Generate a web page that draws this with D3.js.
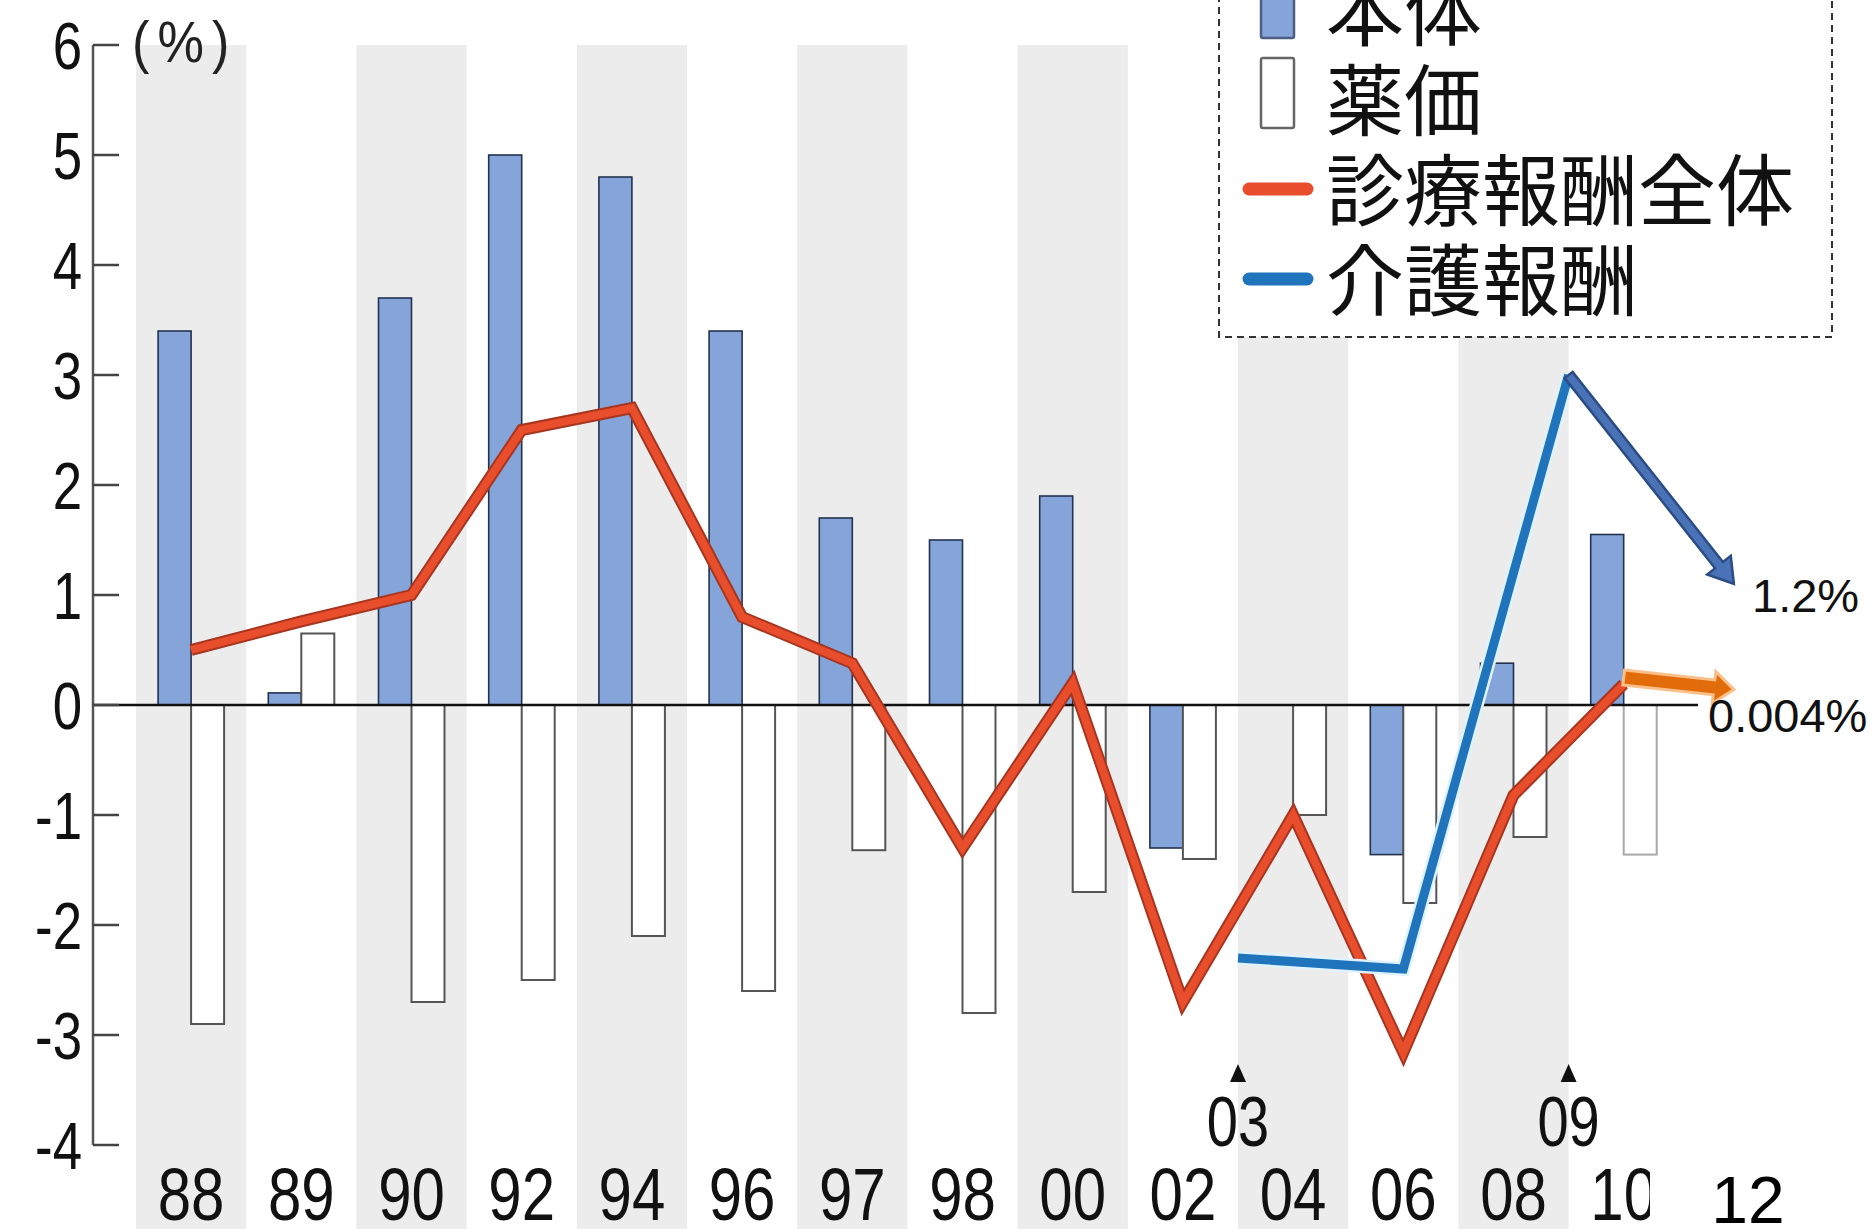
<!DOCTYPE html>
<html>
<head>
<meta charset="utf-8">
<script src="https://cdn.jsdelivr.net/npm/d3@7"></script>
<style>
html, body { margin: 0; padding: 0; background: #fff; }
svg { display: block; }
</style>
</head>
<body>
<div id="chart"></div>
<script>

// categories (revision years) and values, %
var yearLabels = ["88", "89", "90", "92", "94", "96", "97", "98", "00", "02", "04", "06", "08", "10", "12"];
var years = [1988, 1989, 1990, 1992, 1994, 1996, 1997, 1998, 2000, 2002, 2004, 2006, 2008, 2010, 2012];
var honTai = [3.4, 0.11, 3.7, 5.0, 4.8, 3.4, 1.7, 1.5, 1.9, -1.3, 0, -1.36, 0.38, 1.55];          // 本体
var yakka = [-2.9, 0.65, -2.7, -2.5, -2.1, -2.6, -1.32, -2.8, -1.7, -1.4, -1.0, -1.8, -1.2, -1.36]; // 薬価
var zentai = [0.5, 0.76, 1.0, 2.5, 2.7, 0.8, 0.38, -1.3, 0.2, -2.7, -1.0, -3.16, -0.82, 0.19];      // 診療報酬全体
var kaigoYears = [2003, 2006, 2009];
var kaigo = [-2.3, -2.4, 3.0];                                                                       // 介護報酬
var yTicks = [6, 5, 4, 3, 2, 1, 0, -1, -2, -3, -4];
var markYears = [2003, 2009];
var markLabels = ["03", "09"];
var legendLabels = ["本体", "薬価", "診療報酬全体", "介護報酬"];

// 2012 additions drawn on top of the old chart
var kaigoArrow = [{ year: 2009, v: 3.0 }, { year: 2012, v: 1.1 }];
var zentaiArrow = [{ year: 2010, v: 0.25 }, { year: 2012, v: 0.14 }];
var noteLabels = ["1.2%", "0.004%"];

var W = 1876, H = 1229;
var svg = d3.select("#chart").append("svg").attr("width", W).attr("height", H);

var xBand = d3.scaleBand().domain(yearLabels).range([136, 136 + 15 * 110.2]).padding(0);
var bw = xBand.bandwidth();
var xYear = d3.scaleLinear().domain(years)
    .range(yearLabels.map(function (l) { return xBand(l) + bw / 2; }));
var y = d3.scaleLinear().domain([-4, 6]).range([1145, 45]);

var barW = 33;
var numFont = "'Liberation Sans', Arial, sans-serif";
var jpFont = "'Noto Sans CJK JP', sans-serif";

svg.append("defs").append("clipPath").attr("id", "oldchart")
    .append("rect").attr("x", 0).attr("y", 0).attr("width", 1650).attr("height", H);

// shaded bands, every other year
svg.append("g").selectAll("rect").data(yearLabels.slice(0, 14)).enter().append("rect")
    .attr("x", function (d) { return xBand(d); })
    .attr("y", y(6))
    .attr("width", bw)
    .attr("height", H - y(6))
    .attr("fill", function (d, i) { return i % 2 == 0 ? "#ececec" : "none"; });

// bars
var bars = svg.append("g");
bars.selectAll("rect.hon").data(honTai).enter().append("rect").attr("class", "hon")
    .attr("x", function (d, i) { return xBand(yearLabels[i]) + bw / 2 - barW; })
    .attr("y", function (d) { return y(Math.max(0, d)); })
    .attr("width", barW)
    .attr("height", function (d) { return Math.abs(y(d) - y(0)); })
    .attr("fill", "#85a4d9").attr("stroke", "#22324f").attr("stroke-width", 1.6);

bars.selectAll("rect.yak").data(yakka).enter().append("rect").attr("class", "yak")
    .attr("x", function (d, i) { return xBand(yearLabels[i]) + bw / 2; })
    .attr("y", function (d) { return y(Math.max(0, d)); })
    .attr("width", barW)
    .attr("height", function (d) { return Math.abs(y(d) - y(0)); })
    .attr("fill", "#fff")
    .attr("stroke", function (d, i) { return i == 13 ? "#a8a8a8" : "#555"; })
    .attr("stroke-width", 2);

// zero line
svg.append("line").attr("x1", 93).attr("x2", 1698).attr("y1", y(0)).attr("y2", y(0))
    .attr("stroke", "#111").attr("stroke-width", 2.5);

// y axis
var yAxis = svg.append("g");
yAxis.append("line").attr("x1", 93).attr("x2", 93).attr("y1", y(6)).attr("y2", y(-4))
    .attr("stroke", "#555").attr("stroke-width", 2.5);
yAxis.selectAll("line.tick").data(yTicks).enter().append("line").attr("class", "tick")
    .attr("x1", 93).attr("x2", 119)
    .attr("y1", function (d) { return y(d); }).attr("y2", function (d) { return y(d); })
    .attr("stroke", "#444").attr("stroke-width", 2.5);
yAxis.selectAll("g.lbl").data(yTicks).enter().append("g").attr("class", "lbl")
    .attr("transform", function (d) { return "translate(82," + y(d) + ")"; })
    .append("text").text(function (d) { return d < 0 ? "-" + Math.abs(d) : d; })
    .attr("transform", "scale(0.8,1)")
    .attr("text-anchor", "end").attr("dy", "0.36em")
    .style("font-family", numFont).style("font-size", "66px").style("fill", "#111");
svg.append("g").attr("transform", "translate(132,62)")
    .append("text").text("(%)").attr("transform", "scale(0.9,1)")
    .style("font-family", numFont).style("font-size", "58px").style("letter-spacing", "9px")
    .style("fill", "#222");

// x labels (old chart is cut at the right)
var xl = svg.append("g").attr("clip-path", "url(#oldchart)");
xl.selectAll("g").data(yearLabels.slice(0, 14)).enter().append("g")
    .attr("transform", function (d) { return "translate(" + (xBand(d) + bw / 2) + ",1220)"; })
    .append("text").text(function (d) { return d; })
    .attr("transform", "scale(0.8,1)").attr("text-anchor", "middle")
    .style("font-family", numFont).style("font-size", "75px").style("fill", "#111");

// ▲03 ▲09 marks for care revisions
var marks = svg.append("g").selectAll("g").data(markYears).enter().append("g")
    .attr("transform", function (d) { return "translate(" + xYear(d) + ",0)"; });
marks.append("path").attr("d", "M0,1064 L-8,1082 L8,1082 Z").attr("fill", "#111");
marks.append("text").text(function (d, i) { return markLabels[i]; })
    .attr("transform", "translate(0,1146) scale(0.8,1)").attr("text-anchor", "middle")
    .style("font-family", numFont).style("font-size", "70px").style("fill", "#111");

// lines
var line = d3.line().x(function (d) { return xYear(d.year); }).y(function (d) { return y(d.v); });
var zentaiPts = zentai.map(function (v, i) { return { year: years[i], v: v }; });
var kaigoPts = kaigo.map(function (v, i) { return { year: kaigoYears[i], v: v }; });

svg.append("path").datum(zentaiPts).attr("d", line).attr("fill", "none")
    .attr("stroke", "#a83520").attr("stroke-width", 12).attr("stroke-linejoin", "miter");
svg.append("path").datum(zentaiPts).attr("d", line).attr("fill", "none")
    .attr("stroke", "#e84d2c").attr("stroke-width", 8).attr("stroke-linejoin", "miter");

function blockArrow(p0, p1, shaftW, headW, headL) {
    var x0 = xYear(p0.year), y0 = y(p0.v), x1 = xYear(p1.year), y1 = y(p1.v);
    var a = Math.atan2(y1 - y0, x1 - x0), len = Math.hypot(x1 - x0, y1 - y0);
    var pts = [[0, -shaftW / 2], [len - headL, -shaftW / 2], [len - headL, -headW / 2], [len, 0],
        [len - headL, headW / 2], [len - headL, shaftW / 2], [0, shaftW / 2]];
    return "M" + pts.map(function (p) {
        return (x0 + p[0] * Math.cos(a) - p[1] * Math.sin(a)) + "," + (y0 + p[0] * Math.sin(a) + p[1] * Math.cos(a));
    }).join("L") + "Z";
}

svg.append("path").attr("d", blockArrow(zentaiArrow[0], zentaiArrow[1], 15, 32, 20))
    .attr("fill", "#e36c0a").attr("stroke", "#fbbf8a").attr("stroke-width", 3);

svg.append("path").datum(kaigoPts).attr("d", line).attr("fill", "none")
    .attr("stroke", "#dff3ff").attr("stroke-width", 14).attr("stroke-linejoin", "miter");
svg.append("path").datum(kaigoPts).attr("d", line).attr("fill", "none")
    .attr("stroke", "#1f74bb").attr("stroke-width", 9).attr("stroke-linejoin", "miter");

svg.append("path").attr("d", blockArrow(kaigoArrow[0], kaigoArrow[1], 10, 30, 24))
    .attr("fill", "#4a72b6").attr("stroke", "#2c4c86").attr("stroke-width", 2.5);

// 2012 notes
svg.append("text").text(noteLabels[0]).attr("x", 1752).attr("y", y(kaigoArrow[1].v) + 28)
    .style("font-family", numFont).style("font-size", "47px").style("fill", "#111");
svg.append("text").text(noteLabels[1]).attr("x", 1708).attr("y", y(0) + 27)
    .style("font-family", numFont).style("font-size", "47px").style("fill", "#111");
svg.append("text").text(yearLabels[14]).attr("x", xBand("12") + bw / 2 + 14).attr("y", 1223)
    .attr("text-anchor", "middle")
    .style("font-family", numFont).style("font-size", "66px").style("fill", "#000");

// legend
var lg = svg.append("g");
lg.append("rect").attr("x", 1219).attr("y", -10).attr("width", 613).attr("height", 347)
    .attr("fill", "#fff").attr("stroke", "#333").attr("stroke-width", 2).attr("stroke-dasharray", "7,5");
var rows = lg.selectAll("g.row").data(legendLabels).enter().append("g").attr("class", "row")
    .attr("transform", function (d, i) { return "translate(0," + (40 + i * 90) + ")"; });
rows.append("text").text(function (d) { return d; }).attr("x", 1326)
    .style("font-family", jpFont).style("font-size", "78px").style("fill", "#111");
rows.filter(function (d, i) { return i < 2; }).append("rect")
    .attr("x", 1261).attr("y", -72).attr("width", 33).attr("height", 70).attr("rx", 2)
    .attr("fill", function (d, i) { return i == 0 ? "#85a4d9" : "#fff"; })
    .attr("stroke", function (d, i) { return i == 0 ? "#4d5f80" : "#666"; }).attr("stroke-width", 2.5);
rows.filter(function (d, i) { return i >= 2; }).append("line")
    .attr("x1", 1249).attr("x2", 1307).attr("y1", -31).attr("y2", -31)
    .attr("stroke", function (d, i) { return i == 0 ? "#e84d2c" : "#1f74bb"; })
    .attr("stroke-width", 13).attr("stroke-linecap", "round");

</script>
</body>
</html>
